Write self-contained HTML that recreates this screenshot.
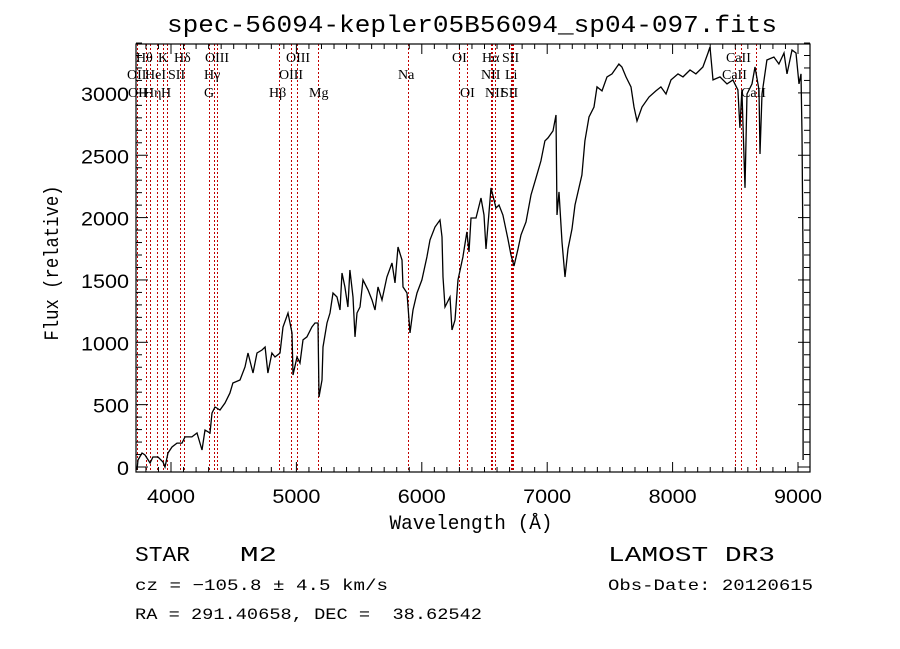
<!DOCTYPE html>
<html><head><meta charset="utf-8"><style>
html,body{margin:0;padding:0;background:#fff;}
svg{display:block;}
</style></head><body>
<svg id="chart" width="900" height="649" viewBox="0 0 900 649" xmlns="http://www.w3.org/2000/svg">
<rect x="0" y="0" width="900" height="649" fill="#fff"/>
<text x="472" y="32" text-anchor="middle" font-family="Liberation Mono, monospace" font-size="24" textLength="610" lengthAdjust="spacingAndGlyphs">spec-56094-kepler05B56094_sp04-097.fits</text>
<g id="lines"></g>
<g id="labels"></g>
<defs><clipPath id="plotclip"><rect x="136" y="44" width="674" height="428"/></clipPath></defs>
<path id="spec" fill="none" stroke="#000" stroke-width="1.3" clip-path="url(#plotclip)"/>
<rect x="136" y="44" width="674" height="428" fill="none" stroke="#000" stroke-width="1.2"/>
<g id="ticks"></g>
<g id="xlabels"></g>
<g id="ylabels"></g>
<text x="471" y="529" text-anchor="middle" font-family="Liberation Mono, monospace" font-size="20" textLength="163" lengthAdjust="spacingAndGlyphs">Wavelength (Å)</text>
<text transform="translate(58,263) rotate(-90)" text-anchor="middle" font-family="Liberation Mono, monospace" font-size="20" textLength="155" lengthAdjust="spacingAndGlyphs">Flux (relative)</text>
<text x="135" y="561" font-family="Liberation Mono, monospace" font-size="21" textLength="55" lengthAdjust="spacingAndGlyphs">STAR</text>
<text x="240" y="561" font-family="Liberation Mono, monospace" font-size="21" textLength="37" lengthAdjust="spacingAndGlyphs">M2</text>
<text x="608" y="561" font-family="Liberation Mono, monospace" font-size="21" textLength="167" lengthAdjust="spacingAndGlyphs">LAMOST DR3</text>
<text x="135" y="590" font-family="Liberation Mono, monospace" font-size="16" textLength="253" lengthAdjust="spacingAndGlyphs">cz = −105.8 ± 4.5 km/s</text>
<text x="608" y="590" font-family="Liberation Mono, monospace" font-size="16" textLength="205" lengthAdjust="spacingAndGlyphs">Obs-Date: 20120615</text>
<text x="135" y="619" font-family="Liberation Mono, monospace" font-size="16" textLength="347" lengthAdjust="spacingAndGlyphs">RA = 291.40658, DEC =&#160; 38.62542</text>
</svg>
<script>
const wavelengths = [3729,3737,3769,3793,3833,3856,3896,3936,3952,3976,4008,4048,4088,4112,4167,4207,4247,4271,4311,4327,4351,4391,4431,4470,4494,4550,4590,4614,4654,4686,4726,4750,4773,4805,4829,4869,4893,4933,4965,4973,5005,5029,5053,5084,5124,5148,5172,5180,5204,5212,5244,5268,5292,5324,5348,5364,5387,5411,5427,5451,5467,5483,5507,5531,5571,5603,5627,5651,5683,5722,5762,5786,5810,5842,5850,5882,5906,5930,5962,6001,6041,6065,6105,6145,6161,6169,6185,6225,6241,6265,6289,6328,6360,6376,6392,6432,6472,6496,6512,6552,6592,6616,6647,6687,6711,6735,6767,6791,6831,6871,6911,6950,6982,7006,7046,7070,7078,7094,7118,7142,7166,7198,7222,7277,7301,7333,7373,7397,7437,7477,7517,7572,7596,7628,7668,7692,7716,7756,7812,7867,7907,7947,7987,8043,8083,8139,8186,8242,8282,8298,8322,8378,8434,8481,8521,8537,8553,8577,8593,8633,8657,8689,8697,8713,8752,8808,8848,8888,8912,8952,8984,9008,9024,9032,9040,9041];
const fluxes = [-24,56,112,96,32,80,80,40,0,112,160,192,192,241,241,273,136,297,273,433,481,457,513,593,674,698,802,914,754,914,938,962,754,914,882,914,1123,1235,1075,738,882,834,1019,1043,1123,1155,1155,561,698,962,1155,1235,1395,1363,1259,1556,1444,1283,1580,1363,1043,1235,1283,1500,1420,1339,1259,1444,1339,1524,1636,1476,1764,1660,1444,1395,1075,1259,1395,1500,1684,1821,1925,1981,1845,1524,1283,1363,1099,1179,1500,1684,1885,1724,1997,1997,2157,2021,1748,2238,2077,2101,2021,1829,1700,1612,1748,1861,1965,2181,2318,2454,2615,2639,2695,2823,2021,2206,1805,1524,1748,1909,2101,2342,2615,2807,2887,3048,3016,3128,3152,3232,3208,3128,3048,2887,2775,2887,2967,3016,3048,2991,3104,3152,3128,3184,3152,3208,3320,3368,3104,3128,3072,3104,3024,2719,3024,2238,2991,3072,3208,3024,2510,2991,3264,3288,3232,3320,3152,3344,3320,3072,3152,2671,1700,56];
const lineWaves = [3727,3798,3835,3889,3934,3969,4072,4102,4305,4340,4363,4861,4959,5007,5175,5893,6300,6364,6548,6563,6583,6708,6716,6731,8498,8542,8662];
const labelTexts = ["Hθ","K","Hδ","OIII","OIII","OII","HeI","SII","Hγ","OIII","OII","Hη","H","G","Hβ","Mg","OI","Hα","SII","CaII","Na","NII","Li","CaII","OI","NII","SII","CaII"];
const labelX = [136,158,174,205,286,127,145,168,204,279,128,144,161,204,269,309,452,482,502,726,398,481,505,722,460,485,501,741];
const labelRow = [0,0,0,0,0,1,1,1,1,1,2,2,2,2,2,2,0,0,0,0,1,1,1,1,2,2,2,2];
const xTicks = [4000,5000,6000,7000,8000,9000];
const yTicks = [0,500,1000,1500,2000,2500,3000];

const X0=136,X1=810,Y0=44,Y1=472;
function xs(l){return 171+(l-4000)*0.1254;}
function ys(f){return 467-f*0.1247;}
const NS="http://www.w3.org/2000/svg";
function mk(tag,attrs,parent){const e=document.createElementNS(NS,tag);for(const k in attrs)e.setAttribute(k,attrs[k]);parent.appendChild(e);return e;}

let d="";
wavelengths.forEach((w,i)=>{d+=(i?"L":"M")+xs(w).toFixed(1)+","+ys(fluxes[i]).toFixed(1);});
document.getElementById("spec").setAttribute("d",d);

const lg=document.getElementById("lines");
lineWaves.forEach(w=>{
  const x=Math.round(xs(w))+0.5;
  const el=mk("line",{x1:x,x2:x,y1:Y0,y2:Y1,stroke:"#c00000","stroke-width":1,"stroke-dasharray":"2,2"},lg);
  
  
});
const lb=document.getElementById("labels");
const rowY=[62,79,97];
labelTexts.forEach((t,i)=>{
  const el=mk("text",{x:labelX[i],y:rowY[labelRow[i]],"font-family":"Liberation Serif, serif","font-size":14},lb);
  el.textContent=t;
  
  
});

const tg=document.getElementById("ticks");
for(let l=3800;l<=9000;l+=100){
  const x=xs(l);const major=(l%1000===0);const len=major?10:5;
  const a=mk("line",{x1:x,x2:x,y1:Y1,y2:Y1-len,stroke:"#000","stroke-width":1},tg);
  
  
  const b=mk("line",{x1:x,x2:x,y1:Y0,y2:Y0+len,stroke:"#000","stroke-width":1},tg);
  
  
}
for(let f=0;f<=3400;f+=100){
  const y=ys(f);const major=(f%500===0);const len=major?12:6;
  const a=mk("line",{x1:X0,x2:X0+len,y1:y,y2:y,stroke:"#000","stroke-width":1},tg);
  
  
  const b=mk("line",{x1:X1,x2:X1-len,y1:y,y2:y,stroke:"#000","stroke-width":1},tg);
  
  
}
const xl=document.getElementById("xlabels");
xTicks.forEach(v=>{
  const el=mk("text",{x:xs(v),y:503,"text-anchor":"middle","font-family":"Liberation Sans, sans-serif","font-size":19,textLength:48,lengthAdjust:"spacingAndGlyphs"},xl);
  el.textContent=v;
  
  
});
const yl=document.getElementById("ylabels");
yTicks.forEach(v=>{
  const n=String(v).length;
  const el=mk("text",{x:129,y:ys(v)+8,"text-anchor":"end","font-family":"Liberation Sans, sans-serif","font-size":19,textLength:n*12,lengthAdjust:"spacingAndGlyphs"},yl);
  el.textContent=v;
  
  
});
</script>
</body></html>
